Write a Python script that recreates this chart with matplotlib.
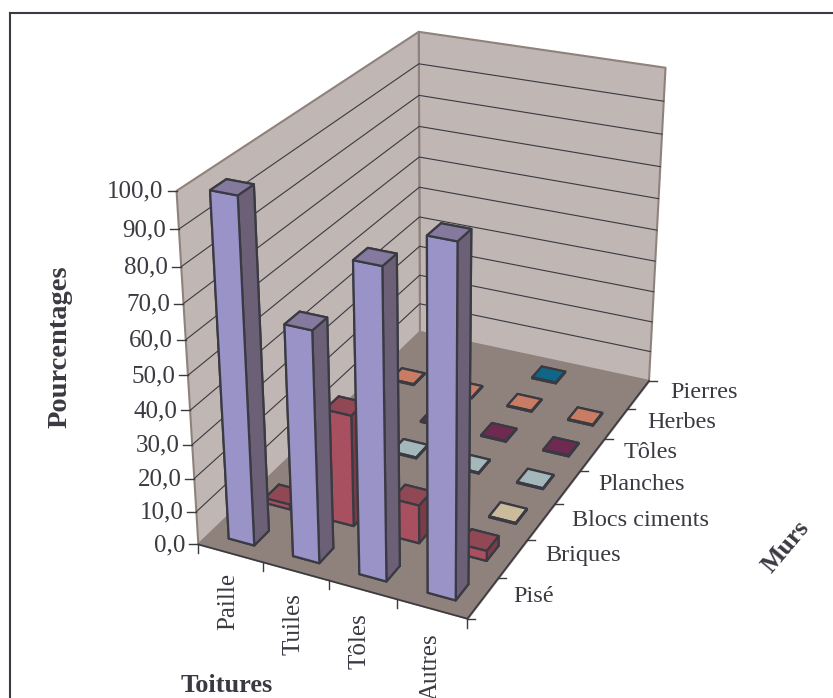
import matplotlib
matplotlib.use("Agg")
import matplotlib.pyplot as plt
import numpy as np
from matplotlib.lines import Line2D
from mpl_toolkits.mplot3d.art3d import Poly3DCollection

plt.rcParams['font.family'] = ['Liberation Serif', 'DejaVu Serif']

W, H = 833, 698
INK = '#3a3a42'

toitures = ['Paille', 'Tuiles', 'Tôles', 'Autres']
murs = ['Pisé', 'Briques', 'Blocs ciments', 'Planches', 'Tôles', 'Herbes', 'Pierres']
pct_ticks = [0, 10, 20, 30, 40, 50, 60, 70, 80, 90, 100]

# pourcentages par type de mur, dans l'ordre des toitures
pise = [99.0, 67.0, 88.0, 98.0]
briques = [1.5, 33.5, 11.5, 3.0]
blocs = [0, 0, 0, 0.3]
planches = [0, 0.3, 0.3, 0.3]
toles = [0, 0.3, 0.3, 0.3]
herbes = [0.3, 0.3, 0.3, 0.3]
pierres = [0, 0, 0.3, 0]
valeurs = [pise, briques, blocs, planches, toles, herbes, pierres]

# front, top, side
couleurs = [('#9a93c8', '#857a9e', '#6c6076'),
            ('#a84f60', '#8f4854', '#7b3b47'),
            ('#c9bb9c', '#c9bb9c', '#8f8672'),
            ('#a4b8bc', '#a4b8bc', '#75858a'),
            ('#6f2a52', '#6f2a52', '#4e1e3a'),
            ('#c87c64', '#c87c64', '#6b4a40'),
            ('#0f6688', '#0f6688', '#0a4a62')]

# camera calibrated on the box corners and ticks of the picture
calib3d = [(0, 0, 0), (4, 0, 0), (4, 7, 0), (0, 7, 0), (0, 0, 100), (0, 7, 100), (4, 7, 100),
           (1, 0, 0), (2, 0, 0), (3, 0, 0), (4, 1, 0), (4, 2, 0), (4, 3, 0), (4, 4, 0), (4, 5, 0), (4, 6, 0),
           (0, 0, 90), (0, 0, 80), (0, 0, 70), (0, 0, 60), (0, 0, 50), (0, 0, 40), (0, 0, 30)]
calib2d = [(199.3, 545), (467.2, 618), (648, 380.7), (419.3, 331.7), (176, 191.7), (419.3, 31.7), (665.3, 68),
           (261, 561.7), (327.7, 580), (396.7, 600), (500, 577.3), (527.3, 540.7), (555, 503.3), (579, 471.7),
           (605, 439), (629.3, 409),
           (178.3, 228.3), (181, 266.7), (183.3, 303.3), (186, 340), (188.3, 374), (190.7, 410.7), (193.3, 445.7)]


def fit_camera(pts3, pts2):
	rows = []
	for (x, y, z), (u, v) in zip(pts3, pts2):
		rows.append([x, y, z, 1, 0, 0, 0, 0, -u*x, -u*y, -u*z, -u])
		rows.append([0, 0, 0, 0, x, y, z, 1, -v*x, -v*y, -v*z, -v])
	p = np.linalg.svd(np.array(rows))[2][-1].reshape(3, 4)
	return p / (p[2] @ np.array([2, 3.5, 50, 1]))


P = fit_camera(calib3d, calib2d)


def pixel(x, y, z):
	h = P @ np.array([x, y, z, 1.0])
	return h[0] / h[2], h[1] / h[2]


fig = plt.figure(figsize=(W/100, H/100), dpi=100)
ax = fig.add_axes([0, 0, 1, 1], projection='3d')
ax.set_axis_off()
ax.computed_zorder = False


def get_proj():
	T = ax.transData.inverted().get_matrix()
	A = T @ np.vstack([P[0], H*P[2] - P[1], P[2]])
	return np.array([A[0], A[1], [0, 0, 0, -1], A[2]])


ax.get_proj = get_proj

# walls and floor
nx, ny = len(toitures), len(murs)
top = pct_ticks[-1]
wall_left = [(0, 0, 0), (0, ny, 0), (0, ny, top), (0, 0, top)]
wall_back = [(0, ny, 0), (nx, ny, 0), (nx, ny, top), (0, ny, top)]
floor = [(0, 0, 0), (nx, 0, 0), (nx, ny, 0), (0, ny, 0)]
ax.add_collection3d(Poly3DCollection([wall_left, wall_back], facecolor='#c0b6b3', edgecolor='#8f827c',
                                     linewidth=1.5, zorder=1))
ax.add_collection3d(Poly3DCollection([floor], facecolor='#8f827c', edgecolor='#8f827c', linewidth=1, zorder=2))

for t in pct_ticks[1:-1]:
	ax.plot([0, 0, nx], [0, ny, ny], [t, t, t], color=INK, lw=0.8, zorder=3)
ax.plot([0, nx, nx], [0, 0, ny], [0, 0, 0], color=INK, lw=1.2, zorder=4)

# bars, far row first
zo = 10
for j in range(ny - 1, -1, -1):
	front, dessus, side = couleurs[j]
	for i in range(nx):
		v = valeurs[j][i]
		if v == 0:
			continue
		ax.bar3d(i + 0.3, j + 0.3, 0, 0.4, 0.4, v, shade=False,
		         color=[dessus, dessus, front, front, side, side],
		         edgecolor=INK, linewidth=1.6, zorder=zo)
		zo += 1


def px_line(x0, y0, x1, y1, lw=1.0):
	fig.add_artist(Line2D([x0/W, x1/W], [1 - y0/H, 1 - y1/H], color=INK, lw=lw, zorder=5))


def px_text(x, y, s, **kw):
	kw.setdefault('fontsize', 17.5)
	kw.setdefault('color', INK)
	fig.text(x/W, 1 - y/H, s, **kw)


# axis ticks and labels
for t in pct_ticks:
	u, v = pixel(0, 0, t)
	px_line(u - 9, v, u, v)
	px_text(u - 13, v + 1, ('%.1f' % t).replace('.', ','), ha='right', va='center', fontsize=18)

for i in range(nx + 1):
	u, v = pixel(i, 0, 0)
	px_line(u, v, u, v + 9)

for j in range(ny + 1):
	u, v = pixel(nx, j, 0)
	px_line(u, v, u + 8, v)

toit_pos = [(228, 573), (293, 593), (359, 613), (431, 633)]
for s, (u, v) in zip(toitures, toit_pos):
	px_text(u, v, s, rotation=90, ha='center', va='top', fontsize=18)

mur_pos = [(513, 597), (545, 556), (572, 520), (598, 485), (624, 453), (647, 422), (670, 392)]
for s, (u, v) in zip(murs, mur_pos):
	px_text(u, v, s, ha='left', va='center')

px_text(60, 347, 'Pourcentages', rotation=90, ha='center', va='center', fontweight='bold', fontsize=20.5)
px_text(227, 686, 'Toitures', ha='center', va='center', fontweight='bold', fontsize=19)
px_text(786, 547, 'Murs', rotation=50, ha='center', va='center', fontweight='bold', fontsize=18.5)

# chart frame, the sheet cuts it at right and bottom
px_line(10, 13, W, 13, lw=1.5)
px_line(10, 13, 10, H, lw=1.5)

fig.savefig('out.png', dpi=100)
